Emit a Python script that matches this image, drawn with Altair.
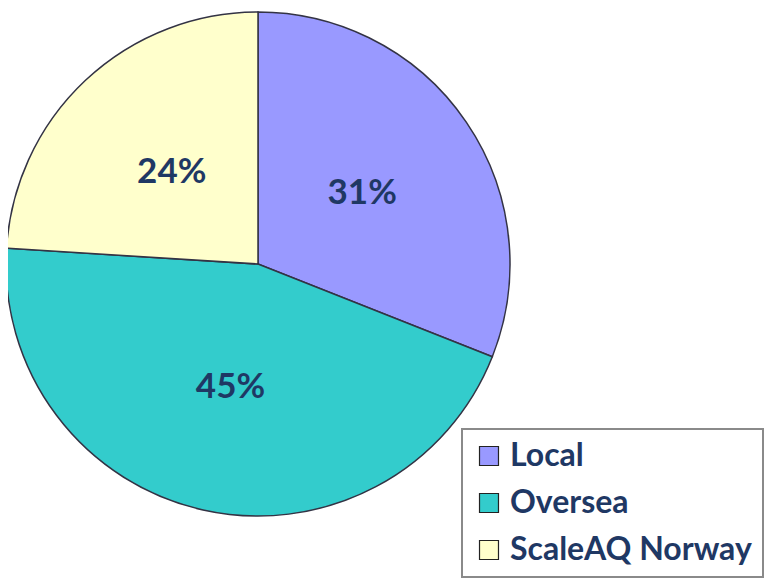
import altair as alt
import pandas as pd

categories = ["Local", "Oversea", "ScaleAQ Norway"]
values = [31, 45, 24]
labels = ["31%", "45%", "24%"]
colors = ["#9999FF", "#33CCCC", "#FFFFCC"]

df = pd.DataFrame({"cat": categories, "val": values, "label": labels, "ord": [0, 1, 2]})

base = alt.Chart(df).encode(
    theta=alt.Theta("val:Q", stack=True),
    order=alt.Order("ord:Q"),
)

color = alt.Color(
    "cat:N",
    scale=alt.Scale(domain=categories, range=colors),
    sort=categories,
    legend=alt.Legend(
        title=None,
        orient="none",
        legendX=454,
        legendY=421,
        fillColor="white",
        strokeColor="#8a8a8a",
        padding=11,
        symbolType="square",
        symbolSize=360,
        symbolStrokeColor="#222222",
        symbolStrokeWidth=1.2,
        symbolOpacity=1,
        labelFont="Lato",
        labelFontSize=32,
        labelFontWeight="bold",
        labelColor="#1F3864",
        labelOffset=5,
        rowPadding=15,
        labelLimit=400,
    ),
)

arcs = base.mark_arc(
    radius=252, stroke="#333344", strokeWidth=1.5
).encode(
    color=color,
    x=alt.value(250),
    y=alt.value(256),
)

text = base.mark_text(
    radius=126, font="Lato", fontSize=35, fontWeight="bold", color="#1F3864"
).encode(
    text="label:N",
    x=alt.value(250),
    y=alt.value(256),
)

chart = (arcs + text).properties(
    width=761, height=570, autosize=alt.AutoSizeParams(type="none"), padding=0
).configure_view(stroke=None).configure_legend(strokeWidth=2)

chart.save("out.html", embed_options={"renderer": "svg", "actions": False})
